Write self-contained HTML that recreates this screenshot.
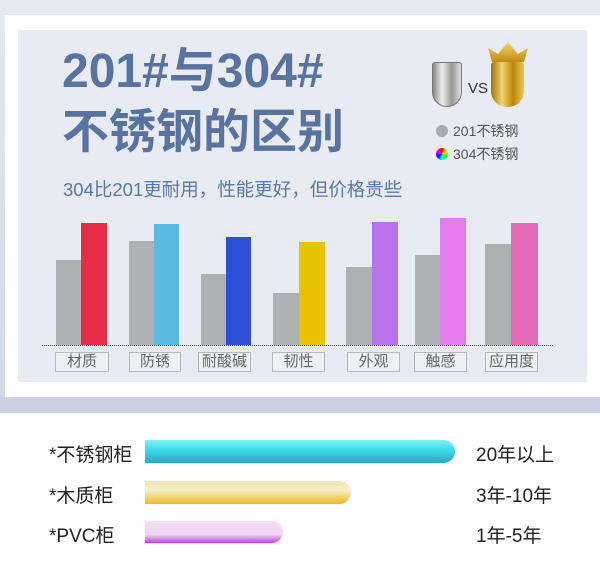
<!DOCTYPE html><html><head><meta charset="utf-8"><style>
body{margin:0;width:600px;height:578px;position:relative;overflow:hidden;background:#fff;font-family:"Liberation Sans","Noto Sans CJK SC",sans-serif}
div{position:absolute;box-sizing:border-box}
.t{white-space:nowrap}
.b{bottom:233px}
.lab{top:352px;height:20px;border:1px solid #b5b8bd;background:#eef0f3;color:#666;font-size:15px;text-align:center;line-height:18px}
</style></head><body>
<div style="left:0;top:0;width:600px;height:413px;background:linear-gradient(#e6e9f0,#d0d8e6)"></div>
<div style="left:5px;top:15px;width:595px;height:382px;background:#fff"></div>
<div style="left:18px;top:30px;width:569px;height:352px;background:#e8ebf2"></div>
<div class="t" style="left:62px;top:44px;font-size:48px;font-weight:bold;color:#5873a0;line-height:56px">201#与304#</div>
<div class="t" style="left:62px;top:104px;font-size:47px;font-weight:bold;color:#5873a0;line-height:56px">不锈钢的区别</div>
<div class="t" style="left:63px;top:176px;font-size:18.5px;color:#5a78a8">304比201更耐用，性能更好，但价格贵些</div>
<div style="left:432px;top:62px;width:30px;height:45px;background:linear-gradient(90deg,#888,#eee,#999,#ddd);border-radius:3px 3px 15px 15px;border:1px solid #777"></div>
<div class="t" style="left:468px;top:80px;font-size:15px;color:#333">VS</div>
<div style="left:491px;top:62px;width:33px;height:45px;background:linear-gradient(90deg,#a0700a,#f5d56a,#b8860b,#f0c850);border-radius:3px 3px 16px 16px"></div>
<div style="left:488px;top:42px;width:40px;height:20px;background:linear-gradient(#f5d56a,#c08a15);clip-path:polygon(0 30%,25% 60%,50% 0,75% 60%,100% 30%,90% 100%,10% 100%)"></div>
<div style="left:436px;top:125px;width:12px;height:12px;border-radius:50%;background:#aaa"></div>
<div class="t" style="left:453px;top:121px;font-size:14px;color:#555">201不锈钢</div>
<div style="left:436px;top:148px;width:12px;height:12px;border-radius:50%;background:conic-gradient(red,yellow,lime,cyan,blue,magenta,red)"></div>
<div class="t" style="left:453px;top:144px;font-size:14px;color:#555">304不锈钢</div>
<div style="left:42px;top:345px;width:511px;height:0;border-top:1px dotted #444"></div>
<div class="b" style="left:56px;width:25px;height:85px;background:#aeafb3"></div>
<div class="b" style="left:81px;width:26px;height:122px;background:#e52d48"></div>
<div class="b" style="left:129px;width:25px;height:104px;background:#aeafb3"></div>
<div class="b" style="left:154px;width:25px;height:121px;background:#58badf"></div>
<div class="b" style="left:201px;width:25px;height:71px;background:#aeafb3"></div>
<div class="b" style="left:226px;width:25px;height:108px;background:#2e4fd7"></div>
<div class="b" style="left:273px;width:26px;height:52px;background:#aeafb3"></div>
<div class="b" style="left:299px;width:26px;height:103px;background:#e9c200"></div>
<div class="b" style="left:346px;width:26px;height:78px;background:#aeafb3"></div>
<div class="b" style="left:372px;width:26px;height:123px;background:#b872ec"></div>
<div class="b" style="left:415px;width:25px;height:90px;background:#aeafb3"></div>
<div class="b" style="left:440px;width:26px;height:127px;background:#e47cf0"></div>
<div class="b" style="left:485px;width:26px;height:101px;background:#aeafb3"></div>
<div class="b" style="left:511px;width:27px;height:122px;background:#e46ab8"></div>
<div class="lab" style="left:55px;width:54px">材质</div>
<div class="lab" style="left:129px;width:52px">防锈</div>
<div class="lab" style="left:198px;width:53px">耐酸碱</div>
<div class="lab" style="left:272px;width:53px">韧性</div>
<div class="lab" style="left:347px;width:53px">外观</div>
<div class="lab" style="left:414px;width:53px">触感</div>
<div class="lab" style="left:485px;width:53px">应用度</div>
<div style="left:0;top:397px;width:600px;height:16px;background:#c8d2e3"></div>
<div class="t" style="left:49px;top:440px;font-size:19px;color:#222">*不锈钢柜</div>
<div class="t" style="left:49px;top:481px;font-size:19px;color:#222">*木质柜</div>
<div class="t" style="left:49px;top:521px;font-size:19px;color:#222">*PVC柜</div>
<div style="left:145px;top:440px;width:310px;height:23px;border-radius:0 12px 12px 0;background:linear-gradient(#7ff3f5,#3fdbe8 40%,#2aa6c0)"></div>
<div style="left:145px;top:481px;width:206px;height:23px;border-radius:0 12px 12px 0;background:linear-gradient(#f2e2b0,#f3efc8 40%,#f0b820)"></div>
<div style="left:145px;top:521px;width:138px;height:22px;border-radius:0 12px 12px 0;background:linear-gradient(#f3dcf3,#f0d8f3 60%,#c040e8)"></div>
<div class="t" style="left:476px;top:440px;font-size:19px;color:#222">20年以上</div>
<div class="t" style="left:476px;top:481px;font-size:19px;color:#222">3年-10年</div>
<div class="t" style="left:476px;top:521px;font-size:19px;color:#222">1年-5年</div>
</body></html>
